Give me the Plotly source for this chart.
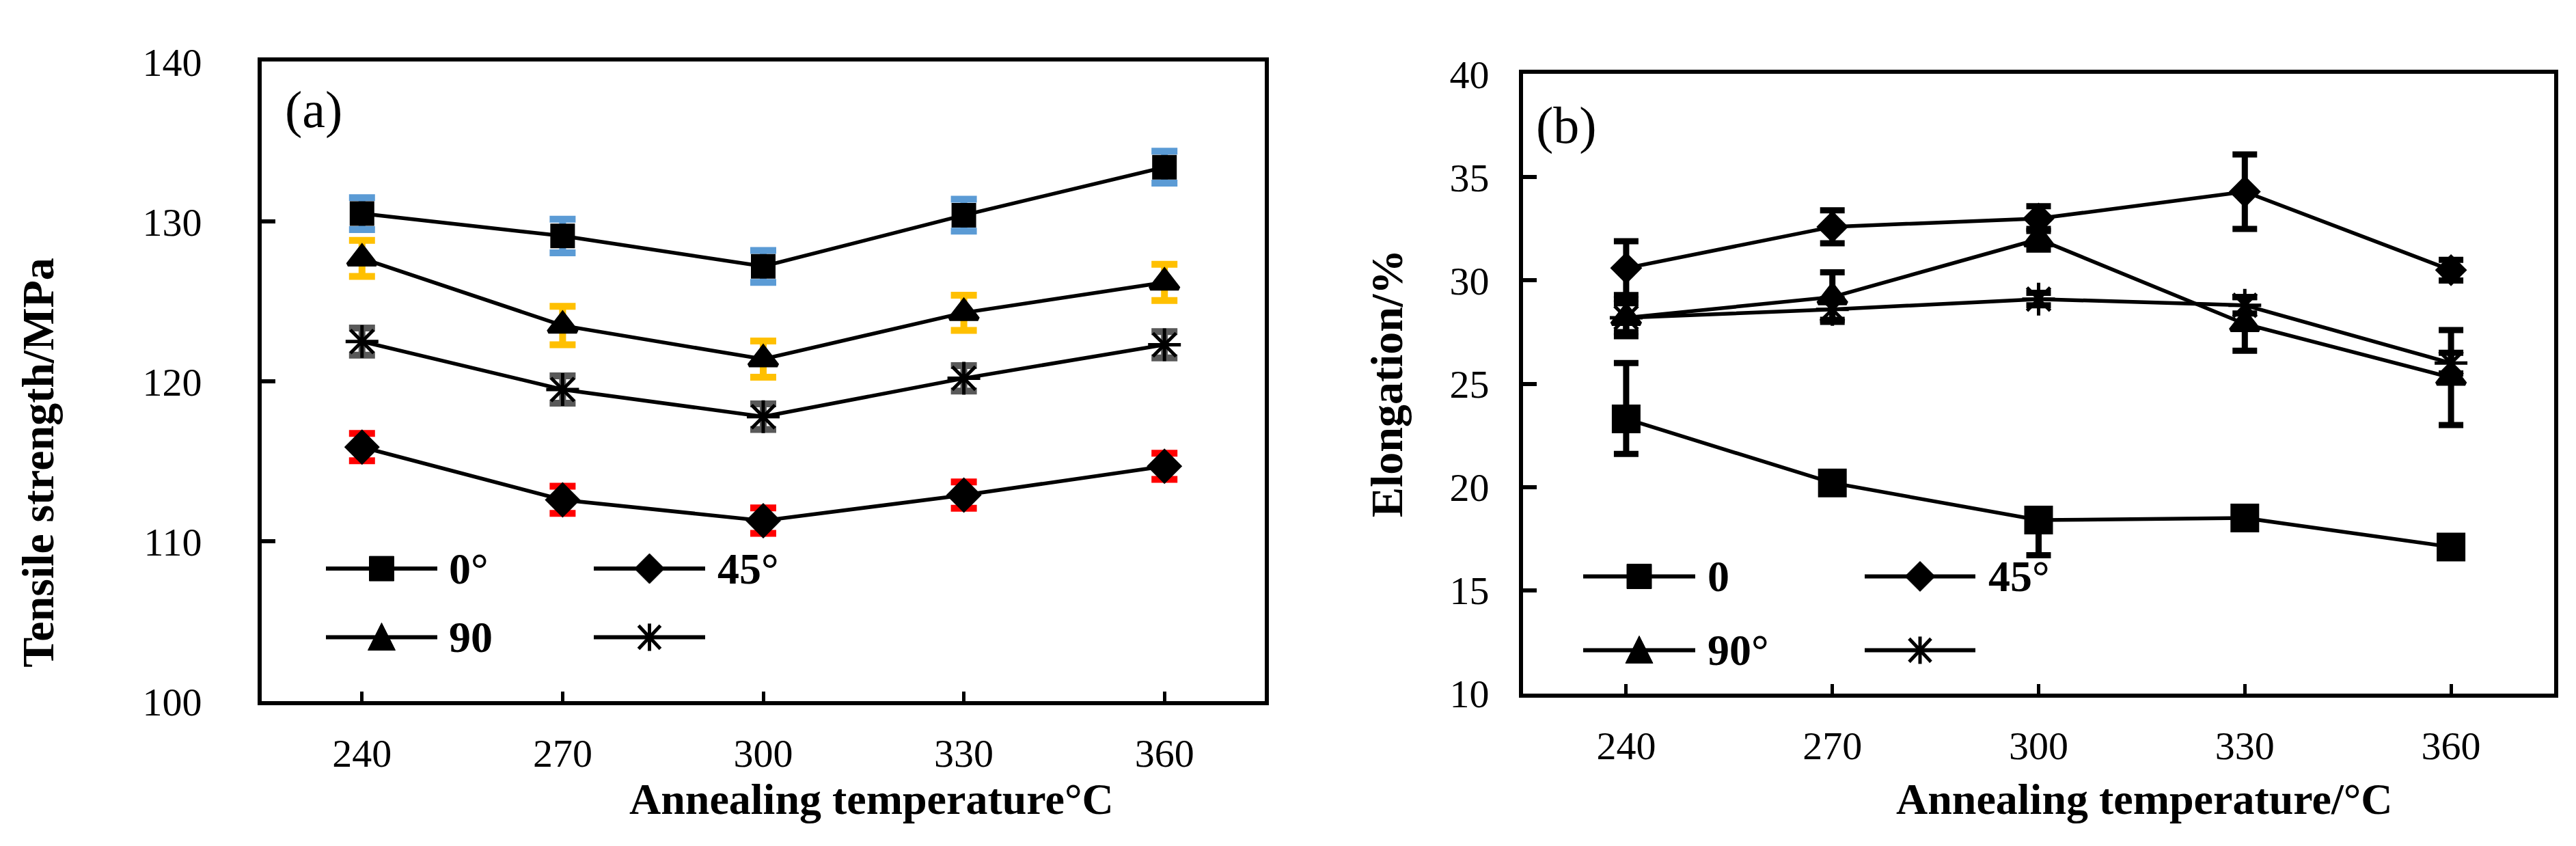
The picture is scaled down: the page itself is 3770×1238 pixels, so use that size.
import plotly.graph_objects as go

W, H = 3770, 1238
FONT = "Liberation Serif, Times New Roman, serif"

# ---- data ----
temps = [240, 270, 300, 330, 360]

# (a) tensile strength / MPa
ts_0 = [130.5, 129.1, 127.2, 130.4, 133.4]
ts_45 = [115.9, 112.6, 111.3, 112.9, 114.7]
ts_90 = [127.7, 123.5, 121.4, 124.3, 126.2]
ts_star = [122.5, 119.5, 117.8, 120.2, 122.3]
ts_0_err = [1.0, 1.05, 1.0, 1.0, 1.0]
ts_45_err = [0.85, 0.85, 0.8, 0.82, 0.82]
ts_90_err = [1.13, 1.2, 1.13, 1.1, 1.13]
ts_star_err = [0.85, 0.85, 0.8, 0.8, 0.82]

# (b) elongation / %
el_0 = [23.3, 20.2, 18.4, 18.5, 17.1]
el_0_plus = [2.7, 0.4, 0.5, 0.3, 0.3]
el_0_minus = [1.7, 0.4, 1.7, 0.3, 0.3]
el_45 = [30.6, 32.6, 33.0, 34.3, 30.5]
el_45_err = [1.3, 0.8, 0.6, 1.8, 0.5]
el_90 = [28.2, 29.2, 32.0, 27.9, 25.3]
el_90_err = [0.7, 1.2, 0.5, 1.3, 2.3]
el_star = [28.2, 28.6, 29.1, 28.8, 26.0]
el_star_err = [0.9, 0.5, 0.3, 0.4, 0.5]

labels_a = ["0°", "45°", "90", ""]
labels_b = ["0", "45°", "90°", ""]


def fx(px):
    return px / W


def fy(py):
    return 1 - py / H


fig = go.Figure()


def add_series(x, y, err, symbol, size, ecolor, xa, ya, ethick, ewidth, err_minus=None, mline=0):
    ey = dict(type="data", array=err, color=ecolor, thickness=ethick, width=ewidth, visible=True)
    if err_minus is not None:
        ey["symmetric"] = False
        ey["arrayminus"] = err_minus
    if symbol == "asterisk-open":
        marker = dict(symbol=symbol, size=size, color="black", line=dict(color="black", width=5))
    else:
        marker = dict(symbol=symbol, size=size, color="black", line=dict(color="black", width=mline))
    fig.add_trace(go.Scatter(
        x=x, y=y, mode="lines+markers", xaxis=xa, yaxis=ya,
        line=dict(color="black", width=5.5),
        marker=marker, error_y=ey, showlegend=False,
    ))


# panel (a) – coloured caps
add_series(temps, ts_0, ts_0_err, "square", 36, "#5B9BD5", "x", "y", 10, 19)
add_series(temps, ts_90, ts_90_err, "triangle-up", 36, "#FFC000", "x", "y", 10, 19, mline=6)
add_series(temps, ts_star, ts_star_err, "asterisk-open", 40, "#595959", "x", "y", 10, 19)
add_series(temps, ts_45, ts_45_err, "diamond", 40, "#FF0000", "x", "y", 10, 19)

# panel (b) – black caps
add_series(temps, el_0, el_0_plus, "square", 42, "black", "x2", "y2", 9, 18, err_minus=el_0_minus)
add_series(temps, el_45, el_45_err, "diamond", 36, "black", "x2", "y2", 9, 18)
add_series(temps, el_90, el_90_err, "triangle-up", 36, "black", "x2", "y2", 9, 18, mline=6)
add_series(temps, el_star, el_star_err, "asterisk-open", 40, "black", "x2", "y2", 9, 18)

tickfont = dict(family=FONT, size=58, color="black")
xcommon = dict(range=[225, 375], tickvals=temps, ticks="inside", ticklen=14, tickwidth=5,
               tickcolor="black", showline=True, linewidth=6, linecolor="black", mirror=True,
               showgrid=False, zeroline=False, tickfont=tickfont, ticklabelstandoff=20)
ycommon = dict(ticks="inside", ticklen=20, tickwidth=6, tickcolor="black", showline=True,
               linewidth=6, linecolor="black", mirror=True, showgrid=False, zeroline=False,
               tickfont=tickfont)

fig.update_layout(
    xaxis=dict(domain=[fx(375), fx(1843)], anchor="y", **xcommon),
    yaxis=dict(domain=[fy(1041), fy(53)], anchor="x", range=[100, 140], dtick=10, tick0=100,
               ticklabelstandoff=70, **ycommon),
    xaxis2=dict(domain=[fx(2221), fx(3730)], anchor="y2", **xcommon),
    yaxis2=dict(domain=[fy(1029), fy(72)], anchor="x2", range=[10, 40], dtick=5, tick0=10,
                ticklabelstandoff=32, **ycommon),
)

annotations = []
shapes = []


def text(xp, yp, s, size, bold=False, xanchor="center", angle=0):
    annotations.append(dict(
        x=fx(xp), y=fy(yp), xref="paper", yref="paper", text=f"<b>{s}</b>" if bold else s,
        showarrow=False, xanchor=xanchor, yanchor="middle", textangle=angle,
        font=dict(family=FONT, size=size, color="black"),
    ))


# panel labels and axis titles
text(451, 127, "(a)", 76)
text(2284, 151, "(b)", 76)
text(1267, 1192, "Annealing temperature°C", 64, bold=True)
text(3130, 1192, "Annealing temperature/°C", 64, bold=True)
text(48, 672, "Tensile strength/MPa", 66, bold=True, angle=-90)
text(2021, 550, "Elongation/%", 66, bold=True, angle=-90)

# hand-made legends (long sample lines, full-size markers)
glyphs = {
    "square": ("M-18,-18H18V18H-18Z", True),
    "diamond": ("M-22,0L0,22L22,0L0,-22Z", True),
    "triangle": ("M-20,-19L20,-19L0,21Z", True),
    "star": ("M-16,-17L16,17M-16,17L16,-17M0,-20V20", False),
}


def legend_entry(x0, x1, ypx, glyph, label, tx):
    shapes.append(dict(type="line", xref="paper", yref="paper", x0=fx(x0), x1=fx(x1),
                       y0=fy(ypx), y1=fy(ypx), line=dict(color="black", width=6)))
    path, filled = glyphs[glyph]
    shapes.append(dict(type="path", xref="paper", yref="paper", xsizemode="pixel",
                       ysizemode="pixel", xanchor=fx((x0 + x1) / 2), yanchor=fy(ypx), path=path,
                       fillcolor="black" if filled else "rgba(0,0,0,0)",
                       line=dict(color="black", width=1 if filled else 5)))
    if label:
        text(tx, ypx, label, 64, bold=True, xanchor="left")


order = ["square", "diamond", "triangle", "star"]
# panel (a)
legend_entry(469, 632, 836, order[0], labels_a[0], 647)
legend_entry(861, 1024, 836, order[1], labels_a[1], 1040)
legend_entry(469, 632, 942, order[2], labels_a[2], 647)
legend_entry(861, 1024, 942, order[3], labels_a[3], 1040)
# panel (b)
legend_entry(2309, 2473, 848, order[0], labels_b[0], 2489)
legend_entry(2721, 2883, 848, order[1], labels_b[1], 2900)
legend_entry(2309, 2473, 962, order[2], labels_b[2], 2489)
legend_entry(2721, 2883, 962, order[3], labels_b[3], 2900)

fig.update_layout(
    width=W, height=H, autosize=False,
    margin=dict(l=0, r=0, t=0, b=0),
    paper_bgcolor="white", plot_bgcolor="white",
    annotations=annotations, shapes=shapes,
    font=dict(family=FONT, color="black"),
)

fig.write_html("out.html")
